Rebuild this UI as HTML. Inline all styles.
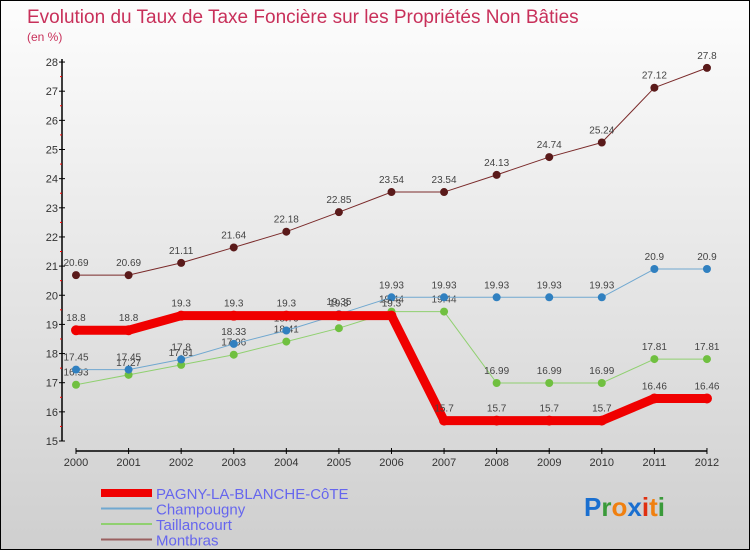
<!DOCTYPE html>
<html><head><meta charset="utf-8"><style>
body{margin:0}
#c{width:748px;height:548px;border:1px solid #000;background:linear-gradient(#fdfdfd,#cfcfcf);position:relative;font-family:"Liberation Sans",sans-serif;overflow:hidden}
</style></head><body>
<div id="c">
<svg id="s" width="748" height="548" xmlns="http://www.w3.org/2000/svg" style="position:absolute;left:0;top:0">
<text x="26" y="22" font-size="19" fill="#c8305a">Evolution du Taux de Taxe Foncière sur les Propriétés Non Bâties</text>
<text x="26" y="40" font-size="12" fill="#c8305a">(en %)</text>
<g id="axes"></g><g id="plot"></g><g id="legend"></g>
<text x="583" y="515" font-size="26" font-weight="bold"><tspan fill="#1a6fd0">P</tspan><tspan fill="#3a9a3a">r</tspan><tspan fill="#f08010">o</tspan><tspan fill="#1a6fd0">x</tspan><tspan fill="#e03010">i</tspan><tspan fill="#f08010">t</tspan><tspan fill="#3a9a3a">i</tspan></text>
</svg>
</div>
<script>
const years=["2000","2001","2002","2003","2004","2005","2006","2007","2008","2009","2010","2011","2012"];
const yTicks=[15,16,17,18,19,20,21,22,23,24,25,26,27,28];
const pagny=[18.8,18.8,19.3,19.3,19.3,19.3,19.3,15.7,15.7,15.7,15.7,16.46,16.46];
const champougny=[17.45,17.45,17.8,18.33,18.79,19.35,19.93,19.93,19.93,19.93,19.93,20.9,20.9];
const taillancourt=[16.93,17.27,17.61,17.96,18.41,18.87,19.44,19.44,16.99,16.99,16.99,17.81,17.81];
const montbras=[20.69,20.69,21.11,21.64,22.18,22.85,23.54,23.54,24.13,24.74,25.24,27.12,27.8];
const names=["PAGNY-LA-BLANCHE-CôTE","Champougny","Taillancourt","Montbras"];
const NS="http://www.w3.org/2000/svg";
const X=i=>75+i*52.58, Y=v=>440-(v-15)*29.15;
function mk(p,t,a){const e=document.createElementNS(NS,t);for(const k in a)e.setAttribute(k,a[k]);p.appendChild(e);return e;}
const ax=document.getElementById('axes'),pl=document.getElementById('plot'),lg=document.getElementById('legend');
let l=mk(ax,'line',{x1:61,y1:58,x2:61,y2:440,stroke:'#000','stroke-width':1.5});


l=mk(ax,'line',{x1:75,y1:450,x2:706,y2:450,stroke:'#000','stroke-width':1.5});


yTicks.forEach(v=>{mk(ax,'line',{x1:58,y1:Y(v),x2:64,y2:Y(v),stroke:'#000'});
if(v<28)mk(ax,'line',{x1:59,y1:Y(v+0.5),x2:61,y2:Y(v+0.5),stroke:'#f00'});
const t=mk(ax,'text',{x:57,y:Y(v)+4,'font-size':11,fill:'#333','text-anchor':'end'});t.textContent=v;

});
years.forEach((y,i)=>{mk(ax,'line',{x1:X(i),y1:447,x2:X(i),y2:453,stroke:'#000'});
const t=mk(ax,'text',{x:X(i),y:465,'font-size':11,fill:'#333','text-anchor':'middle'});t.textContent=y;

});
const series=[[montbras,'#7a2a2a','#5a1a1a',1,4,'montbras'],[taillancourt,'#90d070','#70c040',1,4,'taillancourt'],[champougny,'#70a8d0','#3080c0',1,4,'champougny'],[pagny,'#f00000','#f00000',9,5,'pagny']];
series.forEach(([d,c,dc,w,r,n])=>{
const pts=d.map((v,i)=>X(i)+','+Y(v)).join(' ');
const p=mk(pl,'polyline',{points:pts,fill:'none',stroke:c,'stroke-width':w,'stroke-linejoin':'round'});


d.forEach((v,i)=>{const ci=mk(pl,'circle',{cx:X(i),cy:Y(v),r:r,fill:dc});


const t=mk(pl,'text',{x:X(i),y:Y(v)-9,'font-size':10,fill:'#444','text-anchor':'middle'});t.textContent=v;

});});
const lc=[['#f00000',8],['#70a8d0',2],['#90d070',2],['#9a6060',2]];
names.forEach((n,i)=>{const y=492+i*15.5;
const r=mk(lg,'line',{x1:100,y1:y,x2:151,y2:y,stroke:lc[i][0],'stroke-width':lc[i][1]});


const t=mk(lg,'text',{x:155,y:y+6,'font-size':15,fill:'#6666ee'});t.textContent=n;

});
</script>
</body></html>
